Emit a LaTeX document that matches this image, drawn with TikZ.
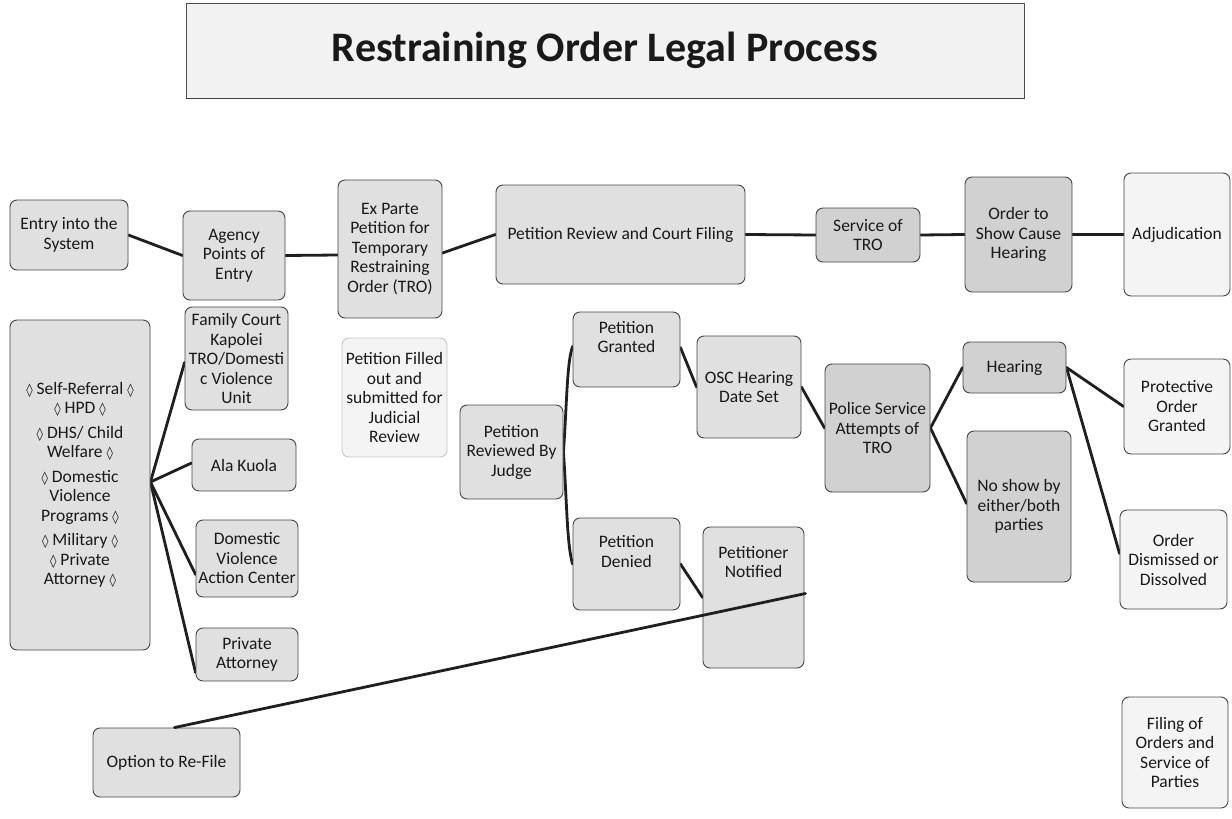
\documentclass[tikz,border=0pt]{standalone}
\usepackage{fontspec}
\setmainfont{Carlito}
\newfontfamily\djv{DejaVu Sans}
\usetikzlibrary{calc,backgrounds}
\newcommand{\lz}{{\djv\fontsize{13}{14}\selectfont ◊}}
\begin{document}
\begin{tikzpicture}[x=1pt,y=-1pt,
  box/.style={draw=gray!55!black, line width=0.9pt, rounded corners=7pt, align=center,
    inner sep=1pt, font=\fontsize{17.5}{19.5}\selectfont, text=black!90},
  med/.style={box, fill=gray!24},
  drk/.style={box, fill=gray!36},
  lgt/.style={box, fill=gray!9},
  conn/.style={line width=2.8pt, draw=black!88, line cap=round},
  titlebox/.style={draw=gray!60!black, line width=0.9pt, fill=gray!10,
    font=\fontsize{42}{48}\selectfont\bfseries, text=black!90}
]
\useasboundingbox (0,0) rectangle (1232,819);

% title
\node[titlebox, minimum width=838pt, minimum height=95pt] (title) at (605,50.5) {Restraining Order Legal Process};
\draw[line width=1.8pt, draw=black!75] (title.south west) -- (title.south east);

% top row
\node[med, minimum width=118pt, minimum height=70pt] (entry) at (69,235) {Entry into the\\System};
\node[med, minimum width=102pt, minimum height=89pt] (agency) at (234,255.5) {Agency\\Points of\\Entry};
\node[med, minimum width=104pt, minimum height=138pt] (exparte) at (390,249) {Ex Parte\\Petition for\\Temporary\\Restraining\\Order (TRO)};
\node[med, minimum width=249pt, minimum height=99pt] (review) at (620.5,234.5) {Petition Review and Court Filing};
\node[drk, minimum width=104pt, minimum height=54pt] (service) at (868,235) {Service of\\TRO};
\node[drk, minimum width=107pt, minimum height=115pt] (osc) at (1018.5,234.5) {Order to\\Show Cause\\Hearing};
\node[lgt, minimum width=106pt, minimum height=123pt] (adj) at (1177,234.5) {Adjudication};

% left column
\node[med, minimum width=140pt, minimum height=330pt] (left) at (80,485)
  {\lz{} Self-Referral \lz\\ \lz{} HPD \lz\\[5pt] \lz{} DHS/ Child\\ Welfare \lz\\[5pt]
   \lz{} Domestic\\ Violence\\ Programs \lz\\[5pt] \lz{} Military \lz\\ \lz{} Private\\ Attorney \lz};
\node[med, minimum width=103pt, minimum height=103pt] (family) at (236.5,358.5) {Family Court\\Kapolei\\TRO/Domesti\\c Violence\\Unit};
\node[med, minimum width=104pt, minimum height=52pt] (ala) at (244,465) {Ala Kuola};
\node[med, minimum width=102pt, minimum height=77pt] (dvac) at (247,558.5) {Domestic\\Violence\\Action Center};
\node[med, minimum width=102pt, minimum height=53pt] (private) at (247,654.5) {Private\\Attorney};

\node[lgt, draw=gray!45, minimum width=105pt, minimum height=119pt] (filled) at (394.5,397.5) {Petition Filled\\out and\\submitted for\\Judicial\\Review};

% middle
\node[med, minimum width=103pt, minimum height=94pt] (judge) at (511.5,452) {Petition\\Reviewed By\\Judge};
\node[med, minimum width=107pt, minimum height=75pt] (granted) at (626.5,349.5) {Petition\\Granted\\[6pt]};
\node[med, minimum width=107pt, minimum height=92pt] (denied) at (626.5,564) {Petition\\Denied\\[6pt]};
\node[med, minimum width=104pt, minimum height=102pt] (oscdate) at (749,387) {OSC Hearing\\Date Set};
\node[med, minimum width=101pt, minimum height=141pt] (notified) at (753.5,597.5) {Petitioner\\Notified\\[52pt]};
\node[drk, minimum width=105pt, minimum height=128pt] (police) at (877.5,428) {Police Service\\Attempts of\\TRO};
\node[drk, minimum width=103pt, minimum height=51pt] (hearing) at (1014.5,367.5) {Hearing};
\node[drk, minimum width=104pt, minimum height=151pt] (noshow) at (1019,506.5) {No show by\\either/both\\parties};
\node[lgt, minimum width=106pt, minimum height=95pt] (protective) at (1177,406.5) {Protective\\Order\\Granted};
\node[lgt, minimum width=107pt, minimum height=99pt] (dismissed) at (1173.5,559.5) {Order\\Dismissed or\\Dissolved};
\node[lgt, minimum width=106pt, minimum height=111pt] (filing) at (1175,752.5) {Filing of\\Orders and\\Service of\\Parties};
\node[med, minimum width=147pt, minimum height=69pt] (refile) at (166.5,762.5) {Option to Re-File};

% connectors
\begin{scope}[on background layer]
\fill[white] (0,0) rectangle (1232,819);
\draw[conn] (entry.east) -- (agency.west);
\draw[conn] ($(agency.east)+(0,0)$) -- ($(exparte.west)+(0,6)$);
\draw[conn] ($(exparte.east)+(0,4)$) -- (review.west);
\draw[conn] (review.east) -- (service.west);
\draw[conn] (service.east) -- (osc.west);
\draw[conn] (osc.east) -- (adj.west);
\coordinate (fan) at ($(left.east)+(0,-3)$);
\draw[conn] (fan) -- ($(family.west)+(0,4)$);
\draw[conn] (fan) -- ($(ala.west)+(0,-2)$);
\draw[conn] (fan) -- ($(dvac.west)+(0,16)$);
\draw[conn] (fan) -- ($(private.west)+(0,18)$);
\draw[conn] (judge.east) .. controls (567,400) and (567,362) .. ($(granted.west)+(0,-3)$);
\draw[conn] (judge.east) .. controls (567,505) and (567,545) .. (denied.west);
\draw[conn] ($(granted.east)+(0,-2)$) -- (oscdate.west);
\draw[conn] (denied.east) -- (notified.west);
\draw[conn] (oscdate.east) -- (police.west);
\draw[conn] (police.east) -- (hearing.west);
\draw[conn] (police.east) -- ($(noshow.west)+(0,-3)$);
\draw[conn] (hearing.east) -- (protective.west);
\draw[conn] (hearing.east) -- ($(dismissed.west)+(0,-6)$);
\end{scope}
\draw[conn] ($(refile.north)+(8,0)$) -- ($(notified.east)+(1,-4)$);
\end{tikzpicture}
\end{document}
